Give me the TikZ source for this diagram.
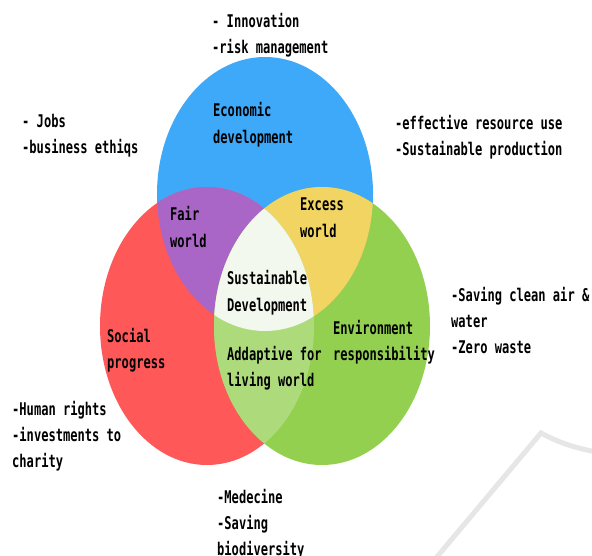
\documentclass[tikz,border=0pt]{standalone}
\usepackage{fontspec}
\newfontfamily\lblfont[FakeStretch=0.69]{DejaVu Sans Mono}
\definecolor{ecoblue}{HTML}{3FA9F9}
\definecolor{socred}{HTML}{FF5858}
\definecolor{envgreen}{HTML}{93D050}
\definecolor{fairpurple}{HTML}{A966C6}
\definecolor{excessyellow}{HTML}{F2D462}
\definecolor{adaptgreen}{HTML}{ADDB7C}
\definecolor{corewhite}{HTML}{F2F8EE}
\definecolor{markgray}{HTML}{E6E6E6}
\tikzset{
  lbl/.style={font=\lblfont\bfseries\fontsize{17.5}{26}\selectfont,
    anchor=base west, inner sep=0pt, text=black},
}
\begin{document}
\begin{tikzpicture}[x=1pt,y=-1pt]
  \useasboundingbox (0,0) rectangle (592,555);
  \fill[white] (0,0) rectangle (592,555);

  % the three pillars
  \def\ecoshape{(265,194) ellipse [x radius=108pt, y radius=137pt]}
  \def\socshape{(207,326) ellipse [x radius=107pt, y radius=139pt]}
  \def\envshape{(322,326) ellipse [x radius=108pt, y radius=139pt]}

  \fill[ecoblue] \ecoshape;
  \fill[socred] \socshape;
  \fill[envgreen] \envshape;

  % pairwise overlaps
  \begin{scope}
    \clip \ecoshape;
    \fill[fairpurple] \socshape;
    \fill[excessyellow] \envshape;
  \end{scope}
  \begin{scope}
    \clip \socshape;
    \fill[adaptgreen] \envshape;
  \end{scope}
  % common core
  \begin{scope}
    \clip \ecoshape;
    \clip \socshape;
    \fill[corewhite] \envshape;
  \end{scope}

  % faint mark in the lower right corner
  \draw[markgray, line width=5pt, line join=miter]
    (436,558) -- (541,433) to[out=-28,in=168] (596,452);

  % labels inside the diagram
  \node[lbl] (eco1) at (213,116) {Economic};
  \node[lbl] (eco2) at (213,143) {development};
  \node[lbl] (fair1) at (170,220) {Fair};
  \node[lbl] (fair2) at (170,247) {world};
  \node[lbl] (exc1) at (300,210) {Excess};
  \node[lbl] (exc2) at (300,237) {world};
  \node[lbl] (sd1) at (227,284) {Sustainable};
  \node[lbl] (sd2) at (227,311) {Development};
  \node[lbl] (soc1) at (107,342) {Social};
  \node[lbl] (soc2) at (107,368) {progress};
  \node[lbl] (env1) at (333,334) {Environment};
  \node[lbl] (env2) at (333,360) {responsibility};
  \node[lbl] (ada1) at (227,360) {Addaptive for};
  \node[lbl] (ada2) at (227,386) {living world};

  % notes around the diagram
  \node[lbl] (top1) at (212,27) {- Innovation};
  \node[lbl] (top2) at (212,53) {-risk management};
  \node[lbl] (left1) at (22,127) {- Jobs};
  \node[lbl] (left2) at (22,153) {-business ethiqs};
  \node[lbl] (right1) at (395,129) {-effective resource use};
  \node[lbl] (right2) at (395,155) {-Sustainable production};
  \node[lbl] (air1) at (451,301) {-Saving clean air \&};
  \node[lbl] (air2) at (451,327) {water};
  \node[lbl] (air3) at (451,353) {-Zero waste};
  \node[lbl] (hum1) at (12,415) {-Human rights};
  \node[lbl] (hum2) at (12,441) {-investments to};
  \node[lbl] (hum3) at (12,467) {charity};
  \node[lbl] (med1) at (217,503) {-Medecine};
  \node[lbl] (med2) at (217,529) {-Saving};
  \node[lbl] (med3) at (217,555) {biodiversity};
\end{tikzpicture}
\end{document}
